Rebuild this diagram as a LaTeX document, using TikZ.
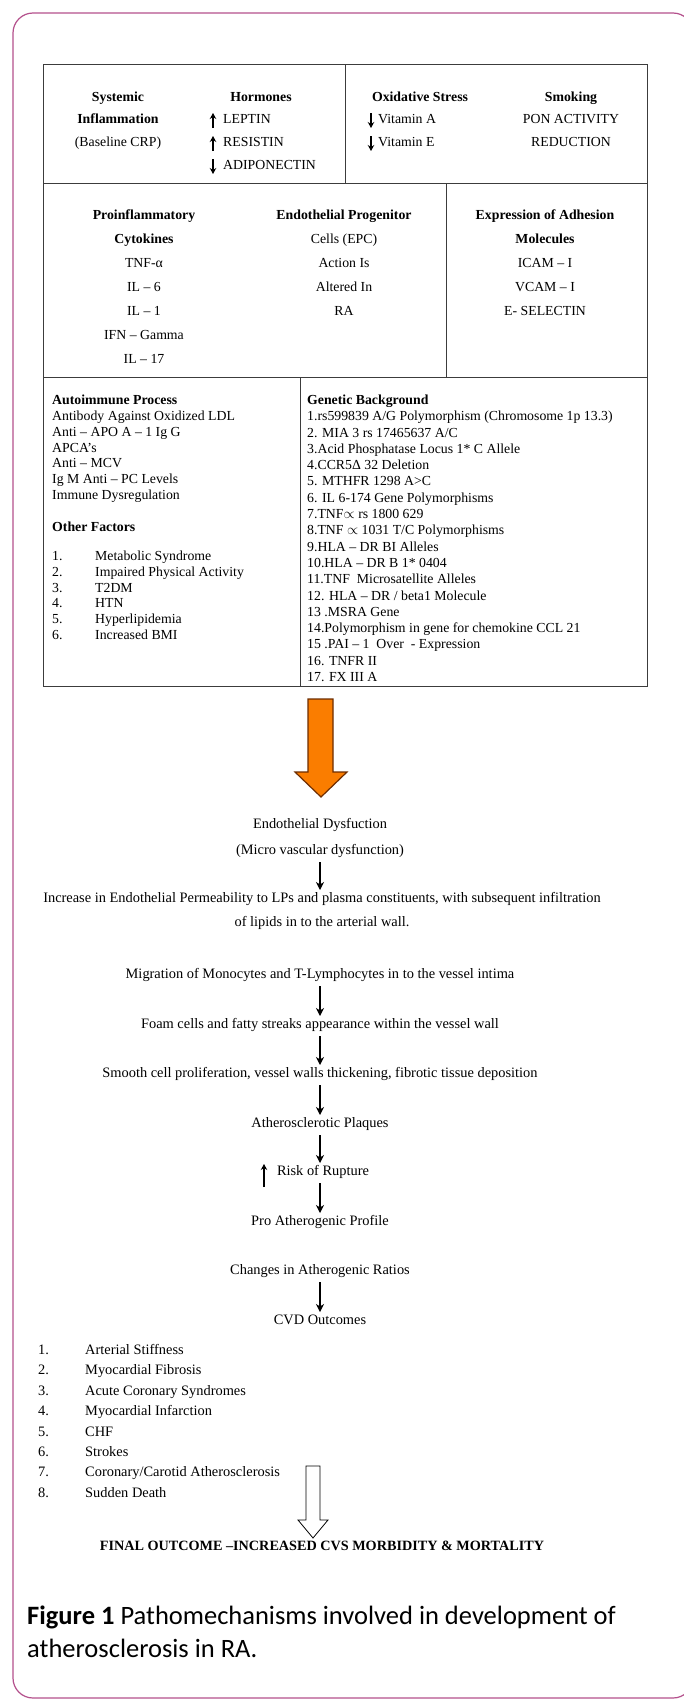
\documentclass[tikz,border=0pt]{standalone}
\usepackage{fontspec}
\setmainfont{Liberation Serif}
\newfontfamily\capfont{Carlito}
\usetikzlibrary{arrows.meta}
\definecolor{framecol}{RGB}{180,80,140}
\definecolor{orangefill}{RGB}{250,125,0}
\definecolor{orangeedge}{RGB}{110,45,0}
\definecolor{tableline}{RGB}{60,60,60}
\tikzset{
 txt/.style={inner sep=1pt, text height=0.72em, text depth=0.24em, font=\fontsize{13.8}{16}\selectfont},
 btxt/.style={inner sep=1pt, text height=0.72em, text depth=0.24em, font=\fontsize{13.8}{16}\selectfont\bfseries},
 ltxt/.style={txt, anchor=west},
 bltxt/.style={btxt, anchor=west},
 ftxt/.style={inner sep=1pt, text height=0.72em, text depth=0.24em, font=\fontsize{14.4}{17}\selectfont},
 fltxt/.style={ftxt, anchor=west},
 fbtxt/.style={inner sep=1pt, text height=0.72em, text depth=0.24em, font=\fontsize{14.2}{17}\selectfont\bfseries},
 flowarr/.style={-{Stealth[length=8pt,width=8pt,inset=2.5pt]}, line width=1.4pt, shorten >=4pt, shorten <=4pt},
 glypharr/.style={-{Stealth[length=6pt,width=6.5pt,inset=2pt]}, line width=1.3pt},
 tbl/.style={draw=tableline, line width=0.9pt},
 captxt/.style={inner sep=0pt, anchor=west, text height=0.72em, text depth=0.24em, font=\capfont\fontsize{26.5}{31}\selectfont},
}
\begin{document}
\begin{tikzpicture}[x=1pt,y=-1pt]
\useasboundingbox (0,0) rectangle (683,1700);
\fill[white] (0,0) rectangle (683,1700);
% outer frame
\draw[framecol, line width=1.2pt, rounded corners=20pt] (13,13) rectangle (693,1698);

% table grid
\draw[tbl] (43,64) rectangle (647,686);
\draw[tbl] (43,183) -- (647,183);
\draw[tbl] (43,377) -- (647,377);
\draw[tbl] (345,64) -- (345,183);
\draw[tbl] (446,183) -- (446,377);
\draw[tbl] (300,377) -- (300,686);

% row 1
\node[btxt] (sys1) at (118,99) {Systemic};
\node[btxt] (sys2) at (118,121) {Inflammation};
\node[txt] (sys3) at (118,144) {(Baseline CRP)};
\node[btxt] (hor) at (261,99) {Hormones};
\node[ltxt] (lep) at (222,121) {LEPTIN};
\node[ltxt] (res) at (222,144) {RESISTIN};
\node[ltxt] (adi) at (222,167) {ADIPONECTIN};
\draw[glypharr] (213,128) -- (213,113);
\draw[glypharr] (213,151) -- (213,136);
\draw[glypharr] (213,159) -- (213,174);
\node[btxt] (ox) at (420,99) {Oxidative Stress};
\node[ltxt] (va) at (377,121) {Vitamin A};
\node[ltxt] (ve) at (377,144) {Vitamin E};
\draw[glypharr] (371,113) -- (371,128);
\draw[glypharr] (371,136) -- (371,151);
\node[btxt] (smk) at (571,99) {Smoking};
\node[txt] (pon) at (571,121) {PON ACTIVITY};
\node[txt] (red) at (571,144) {REDUCTION};

% row 2
\node[btxt] (pro1) at (144,217) {Proinflammatory};
\node[btxt] (pro2) at (144,241) {Cytokines};
\node[txt] (tnf) at (144,265) {TNF-α};
\node[txt] (il6) at (144,289) {IL – 6};
\node[txt] (il1) at (144,313) {IL – 1};
\node[txt] (ifn) at (144,337) {IFN – Gamma};
\node[txt] (il17) at (144,361) {IL – 17};
\node[btxt] (epc1) at (344,217) {Endothelial Progenitor};
\node[txt] (epc2) at (344,241) {Cells (EPC)};
\node[txt] (epc3) at (344,265) {Action Is};
\node[txt] (epc4) at (344,289) {Altered In};
\node[txt] (epc5) at (344,313) {RA};
\node[btxt] (adh1) at (545,217) {Expression of Adhesion};
\node[btxt] (adh2) at (545,241) {Molecules};
\node[txt] (icam) at (545,265) {ICAM – I};
\node[txt] (vcam) at (545,289) {VCAM – I};
\node[txt] (esel) at (545,313) {E- SELECTIN};

% row 3 left
\node[bltxt] (aut) at (51,402) {Autoimmune Process};
\node[ltxt] (a1) at (51,418) {Antibody Against Oxidized LDL};
\node[ltxt] (a2) at (51,434) {Anti – APO A – 1 Ig G};
\node[ltxt] (a3) at (51,450) {APCA’s};
\node[ltxt] (a4) at (51,465) {Anti – MCV};
\node[ltxt] (a5) at (51,481) {Ig M Anti – PC Levels};
\node[ltxt] (a6) at (51,497) {Immune Dysregulation};
\node[bltxt] (oth) at (51,529) {Other Factors};
\foreach \n/\t [count=\i from 0] in {1/Metabolic Syndrome,2/Impaired Physical Activity,3/T2DM,4/HTN,5/Hyperlipidemia,6/Increased BMI}{
  \node[ltxt] (on\n) at (51,558+15.8*\i) {\n.};
  \node[ltxt] (ot\n) at (94,558+15.8*\i) {\t};
}

% row 3 right
\node[bltxt] (gen) at (306,402) {Genetic Background};
\foreach \t [count=\i] in {
 {1.rs599839 A/G Polymorphism (Chromosome 1p 13.3)},
 {2. MIA 3 rs 17465637 A/C},
 {3.Acid Phosphatase Locus 1* C Allele},
 {4.CCR5Δ 32 Deletion},
 {5. MTHFR 1298 A>C},
 {6. IL 6-174 Gene Polymorphisms},
 {7.TNF$\propto$ rs 1800 629},
 {8.TNF $\propto$ 1031 T/C Polymorphisms},
 {9.HLA – DR BI Alleles},
 {10.HLA – DR B 1* 0404},
 {11.TNF\ \ Microsatellite Alleles},
 {12. HLA – DR / beta1 Molecule},
 {13 .MSRA Gene},
 {14.Polymorphism in gene for chemokine CCL 21},
 {15 .PAI – 1\ \ Over\ \ - Expression},
 {16. TNFR II},
 {17. FX III A}}{
  \node[ltxt] (g\i) at (306,402+16.3*\i) {\t};
}

% big orange arrow
\draw[orangeedge, line width=1.2pt, fill=orangefill, line join=miter]
  (308,699) -- (333,699) -- (333,772) -- (347,772) -- (321,797) -- (295,772) -- (308,772) -- cycle;

% flow
\node[ftxt] (ed1) at (320,826) {Endothelial Dysfuction};
\node[ftxt] (ed2) at (320,852) {(Micro vascular dysfunction)};
\node[ftxt] (inc1) at (322,900) {Increase in Endothelial Permeability to LPs and plasma constituents, with subsequent infiltration};
\node[ftxt] (inc2) at (322,924) {of lipids in to the arterial wall.};
\node[ftxt] (mig) at (320,976) {Migration of Monocytes and T-Lymphocytes in to the vessel intima};
\node[ftxt] (foam) at (320,1026) {Foam cells and fatty streaks appearance within the vessel wall};
\node[ftxt] (smooth) at (320,1075) {Smooth cell proliferation, vessel walls thickening, fibrotic tissue deposition};
\node[ftxt] (plaq) at (320,1125) {Atherosclerotic Plaques};
\node[ftxt] (risk) at (323,1173) {Risk of Rupture};
\node[ftxt] (pro) at (320,1223) {Pro Atherogenic Profile};
\node[ftxt] (chg) at (320,1272) {Changes in Atherogenic Ratios};
\node[ftxt] (cvd) at (320,1322) {CVD Outcomes};
\draw[glypharr] (264,1187) -- (264,1164);

\draw[flowarr] (ed2.south -| 320,0) -- (inc1.north -| 320,0);
\draw[flowarr] (mig) -- (foam);
\draw[flowarr] (foam) -- (smooth);
\draw[flowarr] (smooth) -- (plaq);
\draw[flowarr] (plaq.south) -- (plaq.south |- risk.north);
\draw[flowarr] (pro.north |- risk.south) -- (pro.north);
\draw[flowarr] (chg) -- (cvd);

% CVD list
\foreach \n/\t [count=\i from 0] in {1/Arterial Stiffness,2/Myocardial Fibrosis,3/Acute Coronary Syndromes,4/Myocardial Infarction,5/CHF,6/Strokes,7/{Coronary/Carotid Atherosclerosis},8/Sudden Death}{
  \node[fltxt] (cn\n) at (37,1352+20.4*\i) {\n.};
  \node[fltxt] (ct\n) at (84,1352+20.4*\i) {\t};
}

% hollow arrow
\draw[black, line width=0.8pt, fill=white, line join=miter]
  (306,1466) -- (320,1466) -- (320,1520) -- (328,1520) -- (313,1538) -- (298,1520) -- (306,1520) -- cycle;

\node[fbtxt] (fin) at (322,1548) {FINAL OUTCOME –INCREASED CVS MORBIDITY \& MORTALITY};

% caption
\node[captxt] (cap1) at (27,1622) {\textbf{Figure 1} Pathomechanisms involved in development of};
\node[captxt] (cap2) at (27,1655) {atherosclerosis in RA.};
\end{tikzpicture}
\end{document}
